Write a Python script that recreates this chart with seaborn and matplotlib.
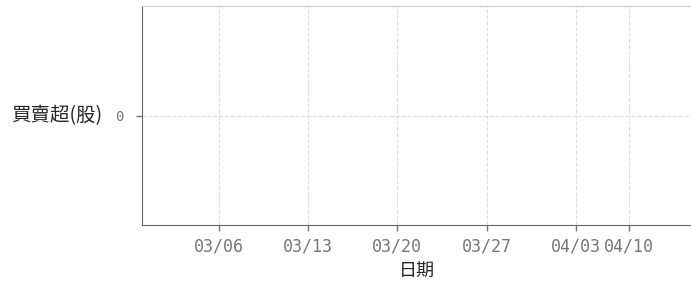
import pandas as pd
import matplotlib.pyplot as plt
import seaborn as sns

sns.set_style('white')
plt.rcParams['font.family'] = ['Noto Sans CJK TC', 'DejaVu Sans']

# trading days (2024, TWSE) and net buy/sell in shares -- all zero in the picture
dates = ['03/01', '03/04', '03/05', '03/06', '03/07', '03/08',
         '03/11', '03/12', '03/13', '03/14', '03/15',
         '03/18', '03/19', '03/20', '03/21', '03/22',
         '03/25', '03/26', '03/27', '03/28', '03/29',
         '04/01', '04/02', '04/03', '04/08', '04/09', '04/10', '04/11', '04/12']
net_shares = [0] * len(dates)
tick_dates = ['03/06', '03/13', '03/20', '03/27', '04/03', '04/10']
y_ticks = [0]

df = pd.DataFrame({'date': dates, 'net': net_shares})

fig = plt.figure(figsize=(6.91, 2.91), dpi=100)
ax = fig.add_axes([0.205, 0.227, 0.795, 0.752])

sns.barplot(x='date', y='net', data=df, ax=ax, color='#d62728', linewidth=0)

ax.set_xlim(-1.33, 29.46)
ax.set_ylim(-1, 1)
ax.set_xticks([dates.index(d) for d in tick_dates])
ax.set_xticklabels(tick_dates)
ax.set_yticks(y_ticks)
ax.set_yticklabels([str(v) for v in y_ticks])

ax.grid(True, linestyle='--', color='#dddddd', linewidth=0.8)
ax.set_axisbelow(True)

for lab in ax.get_xticklabels():
    lab.set_fontfamily('DejaVu Sans Mono')
    lab.set_fontsize(12)
    lab.set_color('#777777')
for lab in ax.get_yticklabels():
    lab.set_fontfamily('DejaVu Sans Mono')
    lab.set_fontsize(10)
    lab.set_color('#777777')
ax.tick_params(axis='both', bottom=True, left=True, direction='out',
               length=4, width=1, color='#777777', pad=5)
ax.tick_params(axis='y', pad=9)

ax.spines['right'].set_visible(False)
ax.spines['top'].set_color('#cccccc')
ax.spines['left'].set_color('#666666')
ax.spines['bottom'].set_color('#666666')

ax.set_xlabel('日期', fontsize=13)
ax.set_ylabel('買賣超(股)', fontsize=14, rotation=0, ha='right', va='center')
ax.xaxis.set_label_coords(0.501, -0.215)
ax.xaxis.label.set_va('center')
ax.yaxis.set_label_coords(-0.0723, 0.5)

fig.savefig('out.png', dpi=100)
